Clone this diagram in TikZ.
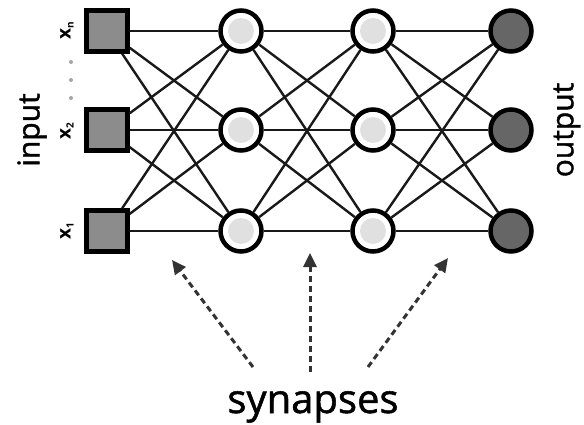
\documentclass[tikz,border=0pt]{standalone}
\usepackage{fontspec}
\setmainfont{Open Sans}
\newfontfamily\labfont[FakeBold=1.3]{Open Sans}
\usetikzlibrary{arrows.meta}
\begin{document}
\begin{tikzpicture}[x=1pt,y=-1pt,
  inp/.style={draw=black, line width=4.5pt, fill=black!45, minimum size=41pt, inner sep=0pt},
  hid/.style={circle, draw=black, line width=4.5pt, fill=white, minimum size=41pt, inner sep=0pt,
    path picture={\fill[black!12] (path picture bounding box.center) circle[radius=13pt];}},
  outn/.style={circle, draw=black, line width=4.5pt, fill=black!60, minimum size=41pt, inner sep=0pt},
  link/.style={draw=black!90, line width=2.4pt},
  syn/.style={draw=black!80, line width=3pt, dash pattern=on 6pt off 4pt, -{Triangle[length=14pt,width=13pt]}},
  lbl/.style={font=\labfont\fontsize{30}{36}\selectfont, rotate=90, inner sep=0pt},
  xl/.style={font=\bfseries\fontsize{19}{22}\selectfont, rotate=90, inner sep=0pt}
]
\useasboundingbox (0,0) rectangle (584,425);
% nodes
\foreach \i/\y in {1/231,2/130,3/31}{
  \node[inp] (a\i) at (107,\y) {};
  \node[hid] (b\i) at (241,\y) {};
  \node[hid] (c\i) at (373,\y) {};
  \node[outn] (d\i) at (511,\y) {};
}
% links
\foreach \i in {1,2,3}{
  \foreach \j in {1,2,3}{
    \draw[link] (a\i) -- (b\j);
    \draw[link] (b\i) -- (c\j);
    \draw[link] (c\i) -- (d\j);
  }
}
% labels
\node[lbl] (inlbl) at (32,130) {input};
\node[lbl] (outlbl) at (567,130) {output};
\node[xl] (x1) at (67,231) {x{\fontsize{10}{12}\selectfont\raisebox{-3pt}{1}}};
\node[xl] (x2) at (67,131) {x{\fontsize{10}{12}\selectfont\raisebox{-3pt}{2}}};
\node[xl] (xn) at (67,31) {x{\fontsize{10}{12}\selectfont\raisebox{-3pt}{n}}};
\foreach \y in {62,80,98}{ \fill[black!35] (71,\y) circle[radius=2pt]; }
% synapses
\node[font=\labfont\fontsize{40}{48}\selectfont, anchor=base, inner sep=0pt] (syn) at (313,413) {synapses};
\coordinate (s1) at (253,367);
\coordinate (t1) at (172,260);
\coordinate (s2) at (310,372);
\coordinate (t2) at (310,253);
\coordinate (s3) at (368,367);
\coordinate (t3) at (448,258);
\draw[syn] (s1) -- (t1);
\draw[syn] (s2) -- (t2);
\draw[syn] (s3) -- (t3);
\end{tikzpicture}
\end{document}
